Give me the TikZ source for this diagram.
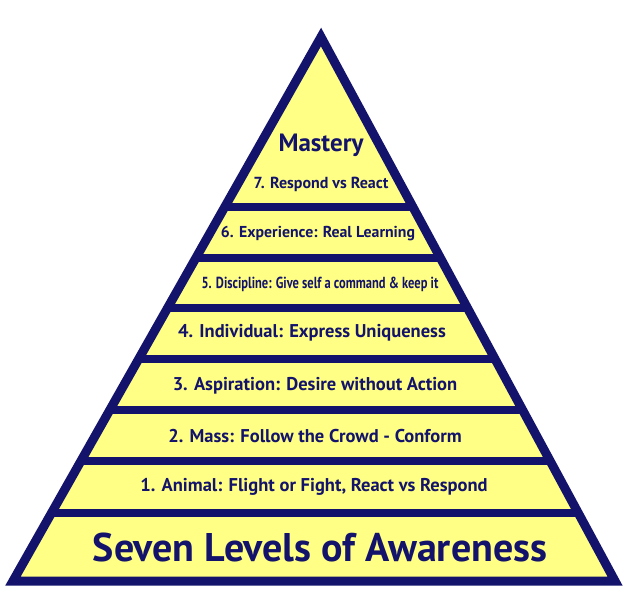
\documentclass[tikz,border=0pt]{standalone}
\usepackage{fontspec}
\setmainfont{PT Sans}
\usetikzlibrary{positioning}
\definecolor{pyrnavy}{HTML}{13136B}
\definecolor{pyrfill}{HTML}{FFFF85}
\begin{document}
\begin{tikzpicture}[x=1pt, y=-1pt, line join=miter,
	level/.style={text=pyrnavy, inner sep=0pt, font=\bfseries\fontsize{18.5}{22}\selectfont},
	upper/.style={level, font=\bfseries\fontsize{16}{20}\selectfont},
	title/.style={level, font=\bfseries\fontsize{40}{46}\selectfont},
	band/.style={pyrnavy, line width=8pt}]
	\useasboundingbox (0,0) rectangle (633,607);
	\coordinate (apex) at (321,37);
	\coordinate (bl) at (13,581);
	\coordinate (br) at (615,581);

	% pyramid body and band separators
	\fill[pyrfill] (apex) -- (bl) -- (br) -- cycle;
	\begin{scope}
		\clip (apex) -- (bl) -- (br) -- cycle;
		\foreach \y in {207,258,308,359,410,461,513}
			\draw[band] (0,\y) -- (633,\y);
	\end{scope}
	\draw[pyrnavy, line width=9pt] (apex) -- (bl) -- (br) -- cycle;

	% levels
	\node[level, font=\bfseries\fontsize{25}{28}\selectfont] (mastery) at (321,145) {Mastery};
	\node[upper] (l7) at (321,184) {7. Respond vs React};
	\node[upper, font=\bfseries\fontsize{15.8}{19}\selectfont] (l6) at (318,234) {6. Experience: Real Learning};
	\node[upper] (l5) at (320,284) {\scalebox{0.78}[1]{5. Discipline: Give self a command \& keep it}};
	\node[level] (l4) at (312,333) {4. Individual: Express Uniqueness};
	\node[level] (l3) at (315,386) {3. Aspiration: Desire without Action};
	\node[level] (l2) at (315,436) {2. Mass: Follow the Crowd - Conform};
	\node[level] (l1) at (314,487) {1. Animal: Flight or Fight, React vs Respond};
	\node[title] (seven) at (320,547) {Seven Levels of Awareness};
\end{tikzpicture}
\end{document}
